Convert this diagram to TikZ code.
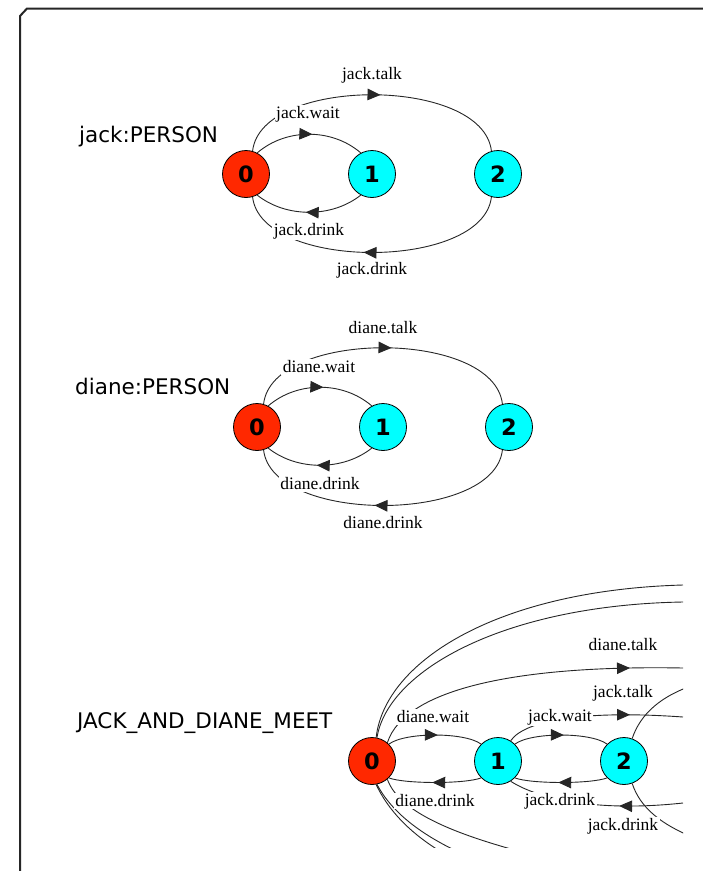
\documentclass[tikz,border=0pt]{standalone}
\usepackage{fontspec}
\setmainfont{Liberation Serif}
\newfontfamily\titlefont{DejaVu Sans}
\newfontfamily\statefont{DejaVu Sans}
\usetikzlibrary{arrows.meta,decorations.markings}

\definecolor{initred}{RGB}{255,40,0}
\definecolor{statecyan}{RGB}{0,255,255}

\tikzset{
  anystate/.style={circle, draw=black, line width=0.8pt, minimum size=47pt,
    inner sep=0pt, font=\statefont\bfseries\fontsize{22.5}{23}\selectfont},
  initstate/.style={anystate, fill=initred},
  otherstate/.style={anystate, fill=statecyan},
  trans/.style={draw=black!85, line width=0.9pt},
  midarrow/.style={trans, postaction={decorate},
    decoration={markings, mark=at position #1 with {\arrow{Triangle[length=13pt,width=11.5pt]}}}},
  midarrow/.default=0.53,
  act/.style={fill=white, inner sep=1.5pt, font=\fontsize{17.5}{18}\selectfont},
  lttitle/.style={anchor=base west, inner sep=0pt, font=\titlefont\fontsize{21.5}{22}\selectfont},
  winframe/.style={line width=2pt, draw=black!85, line join=round}
}

% one agent: states 0,1,2 with wait/talk/drink transitions
\newcommand\personlts[2]{%
  \node[initstate]  (#1s0) at (0,0)   {0};
  \node[otherstate] (#1s1) at (126,0) {1};
  \node[otherstate] (#1s2) at (252,0) {2};
  \draw[midarrow] (#1s0.62) .. controls (40,-46) and (86,-46) .. (#1s1.118);
  \draw[midarrow] (#1s1.-118) .. controls (86,44) and (40,44) .. (#1s0.-62);
  \draw[midarrow] (#1s0.74) .. controls (15,-98) and (237,-98) .. (#1s2.106);
  \draw[midarrow] (#1s2.-106) .. controls (237,97) and (15,97) .. (#1s0.-74);
  \node[act] (#1talk)   at (126,-99) {#2.talk};
  \node[act] (#1wait)   at (62,-60)  {#2.wait};
  \node[act] (#1drinka) at (63,57)   {#2.drink};
  \node[act] (#1drinkb) at (126,96)  {#2.drink};
}

\begin{document}
\begin{tikzpicture}[x=1pt,y=-1pt]
  \useasboundingbox (0,0) rectangle (703,871);

  % window frame
  \draw[winframe] (20,880) -- (20,16) -- (27,8.5) -- (715,8.5);

  % jack:PERSON
  \node[lttitle] (jacktitle) at (79,142) {jack:PERSON};
  \begin{scope}[shift={(246,174)}]
    \personlts{jack}{jack}
  \end{scope}

  % diane:PERSON
  \node[lttitle] (dianetitle) at (75,394) {diane:PERSON};
  \begin{scope}[shift={(257,427)}]
    \personlts{diane}{diane}
  \end{scope}

  % JACK_AND_DIANE_MEET (visible part of the composition)
  \node[lttitle] (meettitle) at (77,728) {JACK\_AND\_DIANE\_MEET};
  \begin{scope}
    \clip (20,8) rectangle (683,847);
    \node[initstate]  (m0) at (372,761) {0};
    \node[otherstate] (m1) at (498,761) {1};
    \node[otherstate] (m2) at (624,761) {2};

    % free ends leaving the visible area
    \coordinate (ua) at (683,585);
    \coordinate (ub) at (683,602);
    \coordinate (dt) at (683,668);
    \coordinate (jt) at (683,717);
    \coordinate (ue) at (700,683);
    \coordinate (jd) at (683,803);
    \coordinate (le) at (700,840);
    \coordinate (dd) at (545,858);
    \coordinate (la) at (580,905);
    \coordinate (lb) at (600,898);

    % long transitions
    \draw[trans] (m0.80) .. controls (385,660) and (500,590) .. (ua);
    \draw[trans] (m0.78) .. controls (388,670) and (505,605) .. (ub);
    \draw[trans] (m0.-80) .. controls (400,835) and (460,875) .. (la);
    \draw[trans] (m0.-78) .. controls (402,832) and (472,868) .. (lb);
    \draw[midarrow=-53pt] (m0.50) .. controls (405,688) and (520,665) .. (dt);
    \draw[midarrow=-53pt] (m1.58) .. controls (525,720) and (585,710) .. (jt);
    \draw[trans] (m2.70) .. controls (640,715) and (660,695) .. (ue);
    \draw[midarrow=64pt] (jd) .. controls (600,812) and (540,800) .. (m1.-58);
    \draw[trans] (m2.-70) .. controls (640,807) and (660,825) .. (le);
    \draw[trans] (dd) .. controls (465,838) and (400,815) .. (m0.-50);

    % neighbouring transitions
    \draw[midarrow] (m0.45) .. controls (405,732) and (465,732) .. (m1.135);
    \draw[midarrow] (m1.45) .. controls (531,732) and (591,732) .. (m2.135);
    \draw[midarrow] (m1.-135) .. controls (465,784) and (405,784) .. (m0.-45);
    \draw[midarrow] (m2.-135) .. controls (591,784) and (531,784) .. (m1.-45);

    \node[act] (mdwait)   at (433,717) {diane.wait};
    \node[act] (mjwait)   at (560,717) {jack.wait};
    \node[act] (mddrink)  at (435,801) {diane.drink};
    \node[act] (mjdrink)  at (560,801) {jack.drink};
    \node[act] (mdtalk)   at (623,645) {diane.talk};
    \node[act] (mjtalk)   at (623,693) {jack.talk};
    \node[act] (mjdrinkb) at (623,826) {jack.drink};
  \end{scope}
\end{tikzpicture}
\end{document}
